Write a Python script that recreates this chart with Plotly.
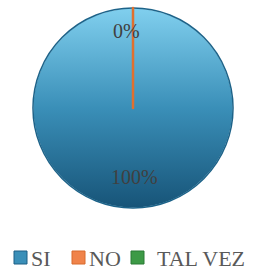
import base64
import plotly.graph_objects as go

labels = ["SI", "NO", "TAL VEZ"]
values = [100, 0, 0]
colors = ["rgba(0,0,0,0)", "#f07f3c", "#3d9a46"]
legend_colors = ["#3a8fb8", "#f0834a", "#3d9a46"]
legend_lines = ["#1d5f85", "#d86a2c", "#2a7a34"]
line_colors = ["#1d6389", "#e0702f", "#2e8b3e"]

# pie geometry (paper fractions)
W, H = 254, 270
px0, px1 = 33 / W, 233 / W
py0, py1 = 1 - 208 / H, 1 - 8 / H

fig = go.Figure(go.Pie(
    labels=labels, values=values, sort=False, direction="clockwise", rotation=0,
    marker=dict(colors=colors, line=dict(color=line_colors, width=[1.5, 2.5, 0])),
    textinfo="none", hoverinfo="label+percent",
    domain=dict(x=[px0, px1], y=[py0, py1]),
    showlegend=False,
))

# gradient fill behind the (transparent) SI slice
svg = ('<svg xmlns="http://www.w3.org/2000/svg" width="200" height="200">'
       '<defs><linearGradient id="g" x1="0" y1="0" x2="0" y2="1">'
       '<stop offset="0" stop-color="#80cfee"/><stop offset="0.5" stop-color="#3a8fb8"/>'
       '<stop offset="1" stop-color="#175478"/></linearGradient></defs>'
       '<circle cx="100" cy="100" r="99.5" fill="url(#g)"/></svg>')
uri = "data:image/svg+xml;base64," + base64.b64encode(svg.encode()).decode()
fig.add_layout_image(source=uri, xref="paper", yref="paper", x=px0, y=py1,
                     sizex=px1 - px0, sizey=py1 - py0, sizing="stretch",
                     xanchor="left", yanchor="top", layer="below")

total = sum(values)
pcts = [f"{round(v * 100 / total)}%" for v in values]
lab_font = dict(family="Liberation Serif", size=20, color="#404040")
fig.add_annotation(x=126 / W, y=1 - 31 / H, xref="paper", yref="paper", text=pcts[1],
                   xanchor="center", yanchor="middle", showarrow=False, font=lab_font)
fig.add_annotation(x=134 / W, y=1 - 177 / H, xref="paper", yref="paper", text=pcts[0],
                   xanchor="center", yanchor="middle", showarrow=False, font=lab_font)

# legend
sw_x = [14, 72, 131]
tx_x = [29, 87, 155]
for i, lab in enumerate(labels):
    fig.add_shape(type="rect", xref="paper", yref="paper",
                  x0=sw_x[i] / W, x1=(sw_x[i] + 13) / W,
                  y0=1 - 264 / H, y1=1 - 251 / H,
                  fillcolor=legend_colors[i], line=dict(color=legend_lines[i], width=1))
    fig.add_annotation(x=tx_x[i] / W, y=1 - 258 / H, xref="paper", yref="paper",
                       xanchor="left", yanchor="middle", text=lab, showarrow=False,
                       font=dict(family="Liberation Serif", size=22, color="#595959"))

fig.update_layout(
    width=W, height=H, margin=dict(l=0, r=0, t=0, b=0),
    paper_bgcolor="white", plot_bgcolor="white",
)
fig.write_html("out.html", config={"displayModeBar": False},
               post_script="document.body.style.margin='0';")
